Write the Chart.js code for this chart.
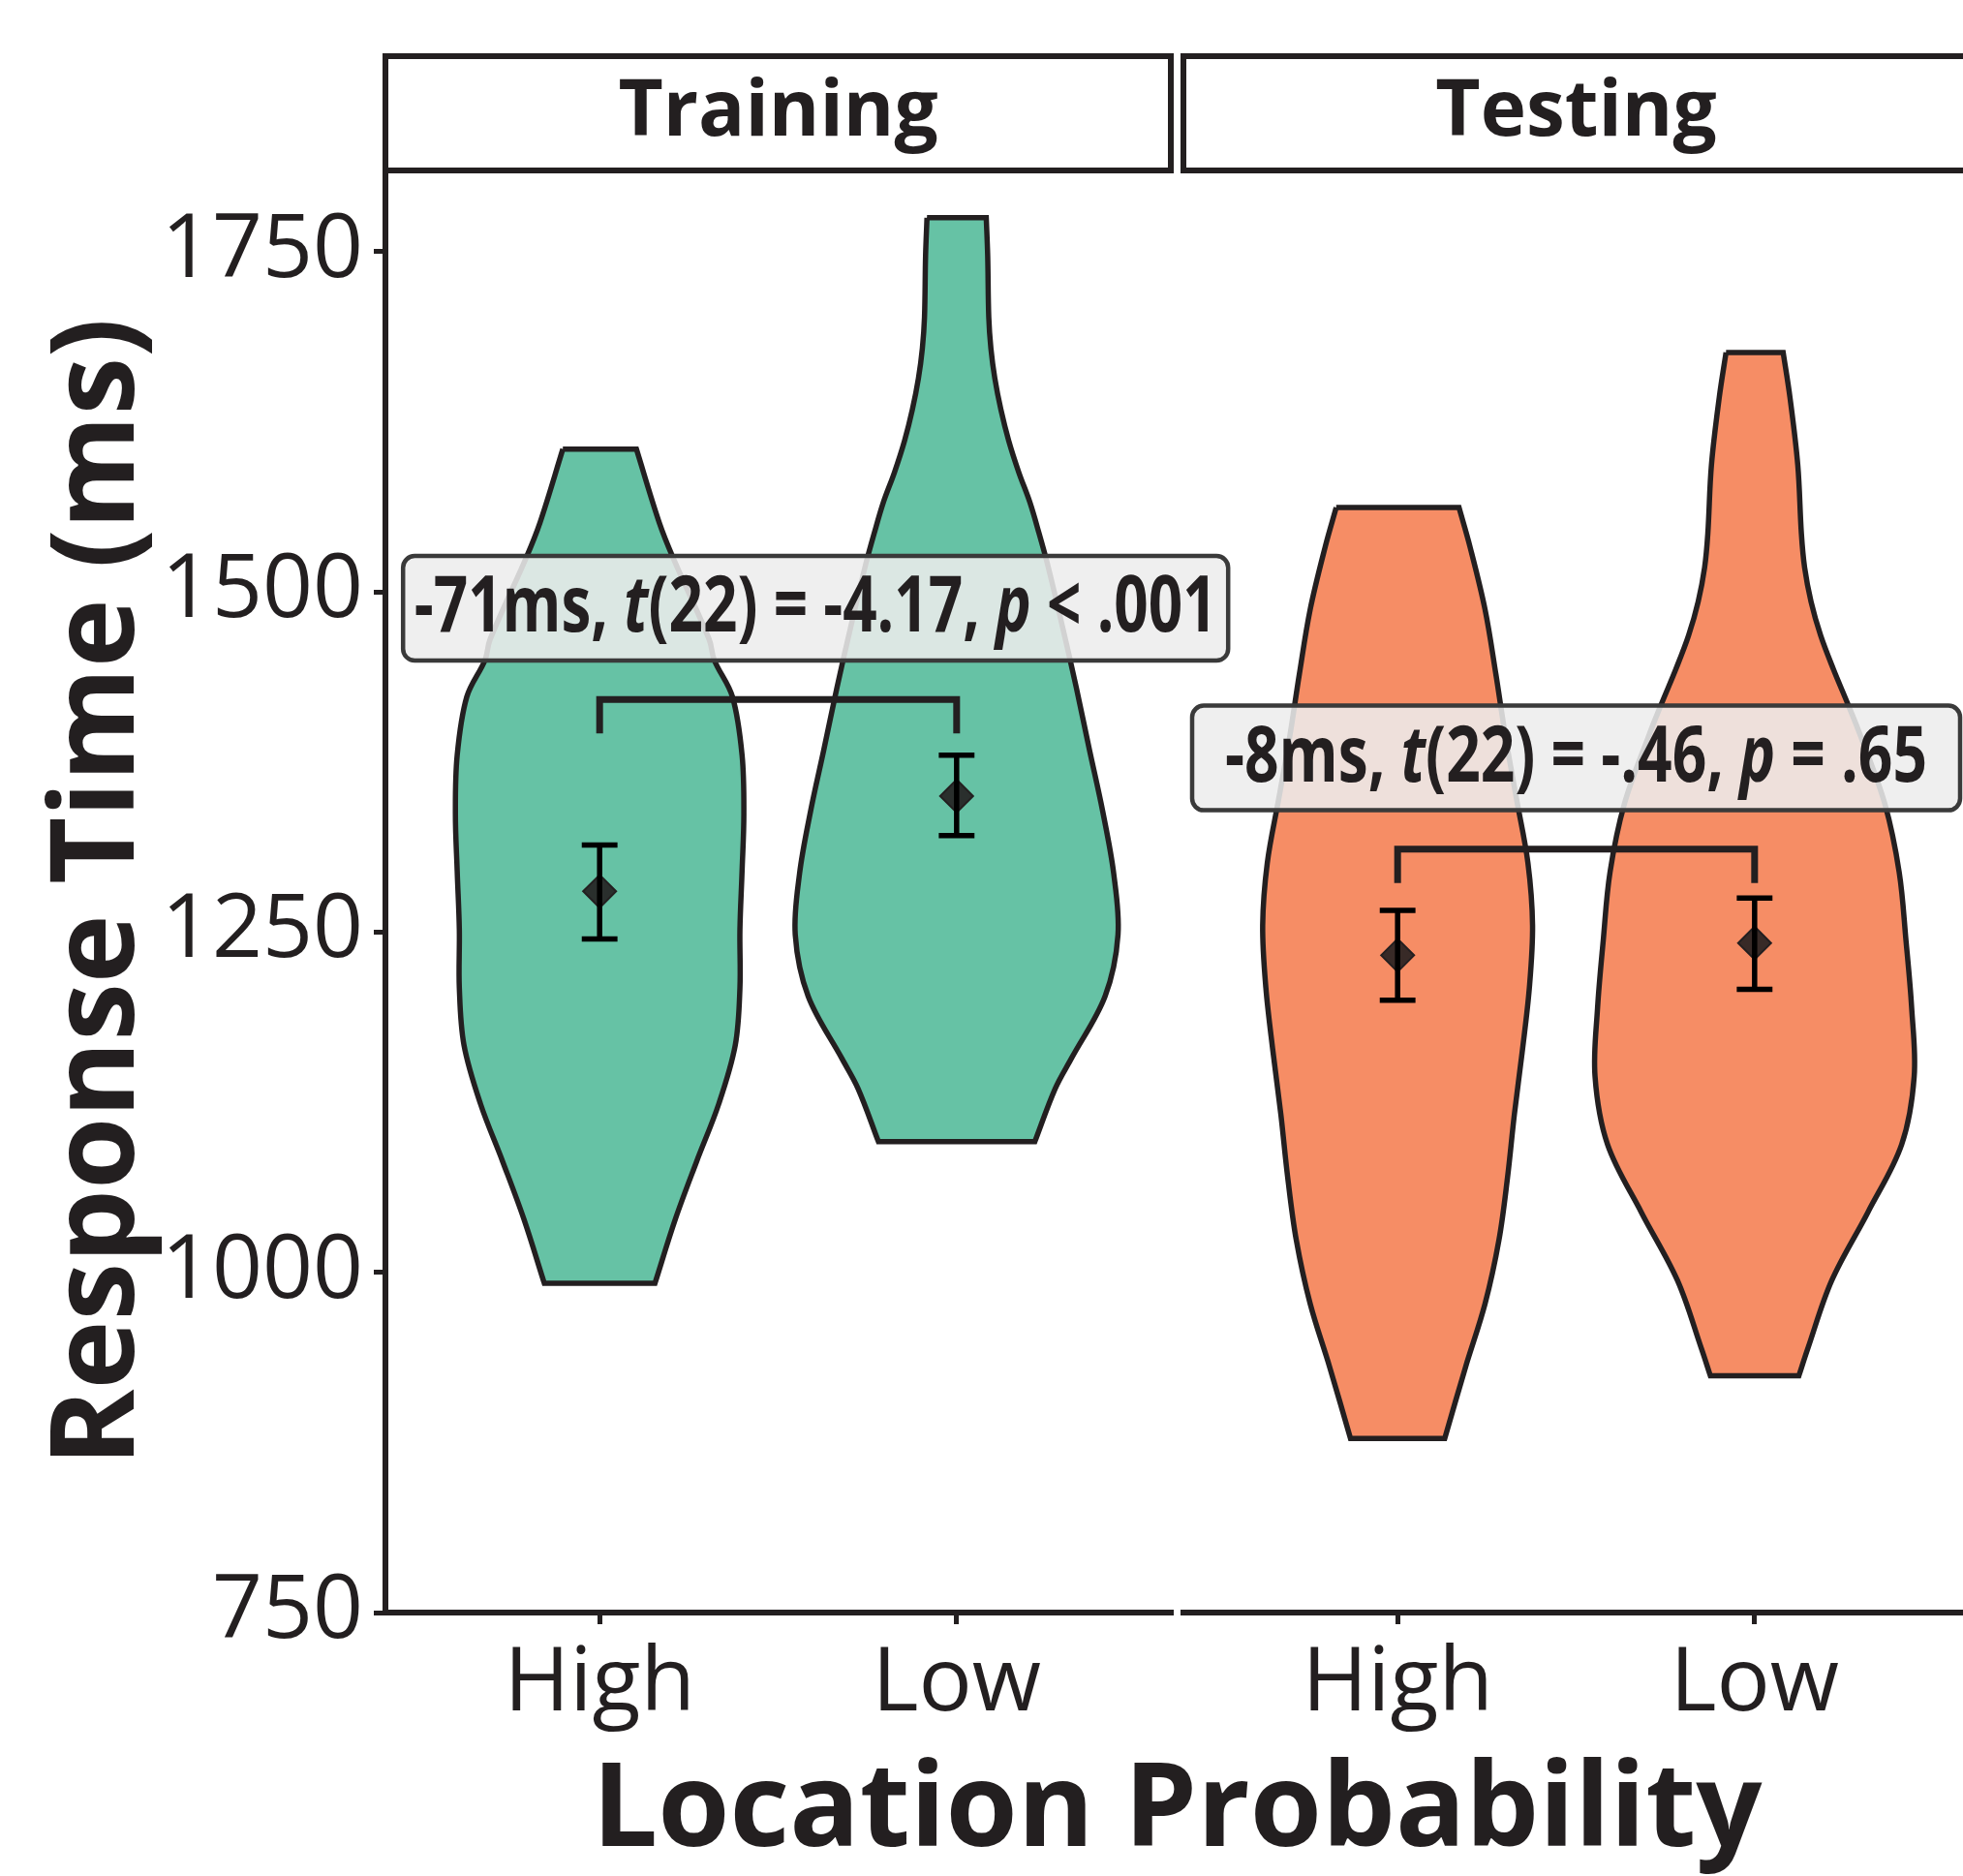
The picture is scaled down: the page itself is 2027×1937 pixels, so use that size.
<!DOCTYPE html>
<html>
<head>
<meta charset="utf-8">
<script src="https://cdn.jsdelivr.net/npm/chart.js@4.4.1/dist/chart.umd.min.js"></script>
<style>
  body { margin: 0; background: #fff; width: 2027px; height: 1937px; overflow: hidden; position: relative; font-family: "Open Sans", sans-serif; }
  canvas { position: absolute; top: 0; }
  #trainChart { left: 0; z-index: 2; }
  #testChart { left: 1216px; z-index: 1; }
  #xTitle { position: absolute; left: 398px; width: 1635px; top: 1800px; text-align: center; font-weight: 700; font-size: 120px; line-height: 120px; color: #231f20; z-index: 3; }
</style>
</head>
<body>
<canvas id="trainChart" width="1300" height="1937"></canvas>
<canvas id="testChart" width="817" height="1937"></canvas>
<div id="xTitle">Location Probability</div>
<script>
// 축 라벨 / 눈금
const probLabels = ["High", "Low"];
const yTicks = [750, 1000, 1250, 1500, 1750];

// 바이올린 외곽선 (위 -> 아래) : 반응시간, 반폭(x 단위)
const trainHighY = [1605, 1551, 1525, 1465, 1450, 1423, 1380, 1337, 1295, 1252, 1209, 1167, 1124, 1081, 1039, 992];
const trainHighW = [0.103, 0.167, 0.206, 0.307, 0.321, 0.372, 0.399, 0.404, 0.399, 0.393, 0.393, 0.380, 0.334, 0.271, 0.212, 0.155];
const trainLowY = [1775, 1747, 1702, 1679, 1657, 1634, 1611, 1588, 1566, 1543, 1520, 1475, 1430, 1384, 1339, 1293, 1248, 1203, 1157, 1135, 1096];
const trainLowW = [0.083, 0.087, 0.090, 0.096, 0.107, 0.124, 0.146, 0.174, 0.205, 0.231, 0.255, 0.296, 0.335, 0.372, 0.409, 0.440, 0.452, 0.416, 0.321, 0.276, 0.219];
const testHighY = [1562, 1533, 1487, 1440, 1394, 1348, 1301, 1255, 1209, 1162, 1116, 1070, 1024, 977, 931, 878];
const testHighW = [0.172, 0.203, 0.245, 0.275, 0.302, 0.333, 0.365, 0.378, 0.369, 0.349, 0.327, 0.308, 0.284, 0.245, 0.191, 0.132];
const testLowY = [1676, 1643, 1593, 1543, 1518, 1493, 1468, 1443, 1419, 1394, 1344, 1294, 1244, 1194, 1144, 1094, 1044, 994, 944, 924];
const testLowW = [0.080, 0.099, 0.121, 0.131, 0.140, 0.158, 0.185, 0.221, 0.259, 0.297, 0.365, 0.405, 0.424, 0.440, 0.447, 0.412, 0.317, 0.216, 0.149, 0.124];

// 평균, 오차막대
const trainMean = [1280, 1350];
const trainErrLo = [1245, 1321];
const trainErrHi = [1314, 1380];
const testMean = [1233, 1242];
const testErrLo = [1200, 1208];
const testErrHi = [1266, 1275];

// 비교 괄호 (다리 끝, 윗선)
const trainBracket = [1396, 1421];
const testBracket = [1286, 1311];

// 통계 라벨 [글자, 이탤릭 여부]
const trainStat = [["-71ms, ", false], ["t", true], ["(22) = -4.17, ", false], ["p", true], [" < .001", false]];
const testStat = [["-8ms, ", false], ["t", true], ["(22) = -.46, ", false], ["p", true], [" = .65", false]];
const trainStatPos = [1.605, 1488];
const testStatPos = [1.5, 1378];

const ink = "#231f20";
const green = "#66c2a5";
const orange = "#f68d65";

Chart.defaults.font.family = '"Open Sans", sans-serif';

// 함수명 : violinPoints
// 기능 : 왼쪽 위->아래, 오른쪽 아래->위 로 닫힌 외곽선 만들기
//        (모서리 점은 두 번 넣어서 곡선이 평평한 끝을 휘지 않게)
function violinPoints(center, ys, ws) {
  const n = ys.length;
  const left = ys.map((y, i) => ({ x: center - ws[i], y: y }));
  const right = ys.map((y, i) => ({ x: center + ws[i], y: y })).reverse();
  return [left[0], ...left, left[n - 1], right[0], ...right, right[n - 1], left[0]];
}

// 함수명 : errorBarPoints
// 기능 : 캡 + 세로선, 사이사이 null 로 끊기
function errorBarPoints(lo, hi) {
  const capW = 0.05;
  let pts = [];
  lo.forEach((l, i) => {
    const c = i + 1;
    pts.push({ x: c - capW, y: hi[i] }, { x: c + capW, y: hi[i] }, { x: c, y: null });
    pts.push({ x: c, y: hi[i] }, { x: c, y: l }, { x: c, y: null });
    pts.push({ x: c - capW, y: l }, { x: c + capW, y: l }, { x: c, y: null });
  });
  return pts;
}

function bracketPoints(b) {
  return [{ x: 1, y: b[0] }, { x: 1, y: b[1] }, { x: 2, y: b[1] }, { x: 2, y: b[0] }];
}

// 패널 위 제목 상자
function stripPlugin(label) {
  return {
    id: "strip",
    afterDraw(chart) {
      const { ctx, chartArea } = chart;
      ctx.save();
      ctx.lineWidth = 6;
      ctx.strokeStyle = ink;
      ctx.strokeRect(chartArea.left, 58, chartArea.right - chartArea.left, 118);
      ctx.font = 'bold 80px "Open Sans"';
      ctx.fillStyle = ink;
      ctx.textAlign = "center";
      ctx.textBaseline = "alphabetic";
      ctx.fillText(label, (chartArea.left + chartArea.right) / 2, 140);
      ctx.restore();
    },
  };
}

// 통계 결과 라벨 (가로로 눌러서 condensed 처럼)
function statPlugin(parts, pos, boxW, textW) {
  const fontFor = (it) => (it ? 'italic bold 80px "Open Sans"' : 'bold 80px "Open Sans"');
  return {
    id: "statLabel",
    afterDraw(chart) {
      const ctx = chart.ctx;
      const cx = chart.scales.x.getPixelForValue(pos[0]);
      const cy = chart.scales.y.getPixelForValue(pos[1]);
      const boxH = 108;
      ctx.save();
      ctx.beginPath();
      ctx.roundRect(cx - boxW / 2, cy - boxH / 2, boxW, boxH, 12);
      ctx.fillStyle = "rgba(237,237,237,0.87)";
      ctx.fill();
      ctx.lineWidth = 4.5;
      ctx.strokeStyle = "#3a3a3a";
      ctx.stroke();

      let total = 0;
      parts.forEach((p) => {
        ctx.font = fontFor(p[1]);
        total += ctx.measureText(p[0]).width;
      });
      ctx.translate(cx - textW / 2, cy + 24);
      ctx.scale(textW / total, 1);
      ctx.fillStyle = ink;
      ctx.textAlign = "left";
      ctx.textBaseline = "alphabetic";
      let x = 0;
      parts.forEach((p) => {
        ctx.font = fontFor(p[1]);
        ctx.fillText(p[0], x, 0);
        x += ctx.measureText(p[0]).width;
      });
      ctx.restore();
    },
  };
}

function panelDatasets(color, highY, highW, lowY, lowW, mean, lo, hi, bracket) {
  const violin = (pts) => ({
    data: pts,
    showLine: true,
    fill: "shape",
    backgroundColor: color,
    borderColor: ink,
    borderWidth: 5.5,
    pointRadius: 0,
    tension: 0.35,
    order: 4,
  });
  return [
    violin(violinPoints(1, highY, highW)),
    violin(violinPoints(2, lowY, lowW)),
    {
      data: bracketPoints(bracket),
      showLine: true,
      borderColor: ink,
      borderWidth: 7,
      borderJoinStyle: "miter",
      pointRadius: 0,
      order: 3,
    },
    {
      data: mean.map((m, i) => ({ x: i + 1, y: m })),
      pointStyle: "rectRot",
      pointRadius: 17,
      backgroundColor: "rgba(35,31,32,0.9)",
      borderColor: ink,
      borderWidth: 2,
      order: 2,
    },
    {
      data: errorBarPoints(lo, hi),
      showLine: true,
      borderColor: "#000",
      borderWidth: 5.5,
      pointRadius: 0,
      spanGaps: false,
      order: 1,
    },
  ];
}

const tickGrid = { display: true, drawOnChartArea: false, drawTicks: true, tickLength: 12, lineWidth: 5, color: ink };
const axisBorder = { display: true, width: 6, color: ink };

function xScale() {
  return {
    type: "linear",
    min: 0.4,
    max: 2.6,
    afterBuildTicks: (s) => {
      s.ticks = [{ value: 1 }, { value: 2 }];
    },
    afterFit: (s) => {
      s.height = 272;
    },
    ticks: {
      callback: (v) => probLabels[Math.round(v) - 1],
      font: { size: 92 },
      color: ink,
      padding: 8,
      maxRotation: 0,
      autoSkip: false,
    },
    grid: tickGrid,
    border: axisBorder,
  };
}

// 훈련 패널
new Chart(document.getElementById("trainChart"), {
  type: "scatter",
  data: { datasets: panelDatasets(green, trainHighY, trainHighW, trainLowY, trainLowW, trainMean, trainErrLo, trainErrHi, trainBracket) },
  options: {
    responsive: false,
    animation: false,
    events: [],
    layout: { autoPadding: false, padding: { top: 177, right: 91, left: 0, bottom: 0 } },
    plugins: { legend: { display: false }, tooltip: { enabled: false } },
    scales: {
      x: xScale(),
      y: {
        min: 750,
        max: 1809,
        afterBuildTicks: (s) => {
          s.ticks = yTicks.map((v) => ({ value: v }));
        },
        afterFit: (s) => {
          s.width = 398;
        },
        ticks: { callback: (v) => String(v), font: { size: 91 }, color: ink, padding: 11 },
        grid: tickGrid,
        border: axisBorder,
        title: {
          display: true,
          text: "Response Time (ms)",
          font: { size: 120, weight: "bold" },
          color: ink,
          padding: { top: 32, bottom: 0 },
        },
      },
    },
  },
  plugins: [stripPlugin("Training"), statPlugin(trainStat, trainStatPos, 852, 829)],
});

// 테스트 패널
new Chart(document.getElementById("testChart"), {
  type: "scatter",
  data: { datasets: panelDatasets(orange, testHighY, testHighW, testLowY, testLowW, testMean, testErrLo, testErrHi, testBracket) },
  options: {
    responsive: false,
    animation: false,
    events: [],
    layout: { autoPadding: false, padding: { top: 177, right: 0, left: 6, bottom: 0 } },
    plugins: { legend: { display: false }, tooltip: { enabled: false } },
    scales: {
      x: xScale(),
      y: { display: false, min: 750, max: 1809 },
    },
  },
  plugins: [stripPlugin("Testing"), statPlugin(testStat, testStatPos, 793, 725)],
});
</script>
</body>
</html>
